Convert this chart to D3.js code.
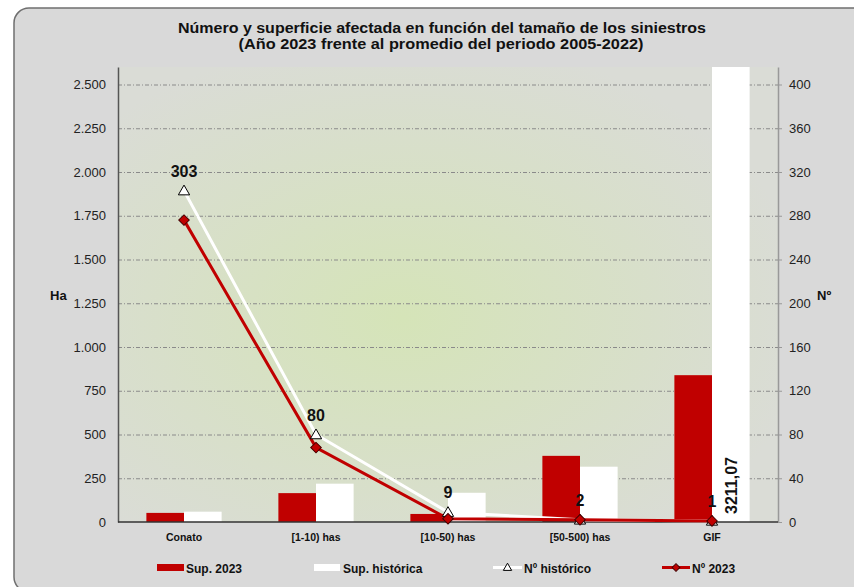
<!DOCTYPE html>
<meta charset="utf-8">
<style>
body { margin: 0; background: #fff; }
text { font-family: 'Liberation Sans', Arial, sans-serif; fill: #111; }
.tick-label { font-size: 13px; fill: #222; }
.cat-label { font-size: 10.5px; font-weight: bold; }
.legend text { font-size: 12px; font-weight: bold; }
.data-label { font-size: 16px; font-weight: bold; }
.title { font-size: 14.5px; font-weight: bold; }
</style>
<div class="chart"></div>
<script src="https://d3js.org/d3.v7.min.js"></script>
<script>
// data
var categories = ["Conato", "[1-10) has", "[10-50) has", "[50-500) has", "GIF"];
var sup2023 = [52, 165, 46, 378, 839];
var supHistorica = [59, 219, 167, 316, 3211.07];
var numHistorico = [303, 80, 9, 2, 1];
var num2023 = [276, 68, 3, 2, 1];
var haTicks = [0, 250, 500, 750, 1000, 1250, 1500, 1750, 2000, 2250, 2500];
var numTicks = [0, 40, 80, 120, 160, 200, 240, 280, 320, 360, 400];

var W = 854, H = 587;
var plot = { left: 118, right: 778, top: 67, bottom: 522 };
var red = "#c00000";

var es = d3.formatLocale({ decimal: ",", thousands: ".", grouping: [3], currency: ["", "€"] });
var fmtHa = es.format(",.0f");
var fmtLabel = es.format(".2f");

var svg = d3.select(".chart").append("svg")
    .attr("width", W)
    .attr("height", H);

var defs = svg.append("defs");
var grad = defs.append("radialGradient")
    .attr("id", "plotbg")
    .attr("cx", "43%").attr("cy", "55%").attr("r", "62%");
grad.append("stop").attr("offset", "0%").attr("stop-color", "#d5e4b8");
grad.append("stop").attr("offset", "100%").attr("stop-color", "#dadcd6");

// outer frame (runs off the right and bottom edges)
svg.append("rect")
    .attr("x", 14).attr("y", 8)
    .attr("width", 880).attr("height", 584)
    .attr("rx", 15)
    .style("fill", "#d9d9d9")
    .style("stroke", "#6f6f6f")
    .style("stroke-width", 1.5);

svg.append("rect")
    .attr("x", plot.left).attr("y", plot.top)
    .attr("width", plot.right - plot.left)
    .attr("height", plot.bottom - plot.top)
    .style("fill", "url(#plotbg)");

// title
svg.append("text")
    .attr("class", "title")
    .attr("x", 442).attr("y", 33)
    .attr("text-anchor", "middle")
    .attr("textLength", 528).attr("lengthAdjust", "spacingAndGlyphs")
    .text("Número y superficie afectada en función del tamaño de los siniestros");
svg.append("text")
    .attr("class", "title")
    .attr("x", 441).attr("y", 49)
    .attr("text-anchor", "middle")
    .attr("textLength", 405).attr("lengthAdjust", "spacingAndGlyphs")
    .text("(Año 2023 frente al promedio del periodo 2005-2022)");

var x0 = d3.scaleBand()
    .domain(categories)
    .range([plot.left, plot.right])
    .paddingInner(0.43)
    .paddingOuter(0.215);
var x1 = d3.scaleBand()
    .domain(["2023", "hist"])
    .range([0, x0.bandwidth()]);
var yHa = d3.scaleLinear().domain([0, 2600]).range([plot.bottom, plot.top]).clamp(true);
var yNum = d3.scaleLinear().domain([0, 416]).range([plot.bottom, plot.top]);
function cx(c) { return x0(c) + x0.bandwidth() / 2; }

// gridlines
svg.append("g").selectAll("line")
    .data(haTicks.slice(1))
    .enter().append("line")
    .attr("x1", plot.left).attr("x2", plot.right)
    .attr("y1", function (d) { return yHa(d) + 0.5; })
    .attr("y2", function (d) { return yHa(d) + 0.5; })
    .style("stroke", "#8a8a8a")
    .style("stroke-width", 1)
    .style("stroke-dasharray", "4,2,1,2");

// left axis
var leftAxis = svg.append("g")
    .attr("transform", "translate(" + plot.left + ",0)")
    .call(d3.axisLeft(yHa).tickValues(haTicks).tickFormat(fmtHa).tickSize(0).tickPadding(12));
leftAxis.select(".domain").style("stroke", "#555").style("stroke-width", 1.5);
leftAxis.selectAll("text").attr("class", "tick-label").attr("font-family", null).attr("font-size", null);

// right axis
var rightAxis = svg.append("g")
    .attr("transform", "translate(" + plot.right + ",0)")
    .call(d3.axisRight(yNum).tickValues(numTicks).tickSize(4).tickSizeOuter(0).tickPadding(7));
rightAxis.select(".domain").style("stroke", "#999").style("stroke-width", 1.5);
rightAxis.selectAll(".tick line").style("stroke", "#999");
rightAxis.selectAll("text").attr("class", "tick-label").attr("font-family", null).attr("font-size", null);

// axis titles
svg.append("text").attr("x", 50).attr("y", 300)
    .style("font-size", "13px").style("font-weight", "bold").text("Ha");
svg.append("text").attr("x", 817).attr("y", 300)
    .style("font-size", "13px").style("font-weight", "bold").text("Nº");

// bars
var groups = svg.append("g").selectAll("g")
    .data(categories)
    .enter().append("g")
    .attr("transform", function (d) { return "translate(" + x0(d) + ",0)"; });

groups.append("rect")
    .attr("x", x1("2023"))
    .attr("width", x1.bandwidth())
    .attr("y", function (d, i) { return yHa(sup2023[i]); })
    .attr("height", function (d, i) { return plot.bottom - yHa(sup2023[i]); })
    .style("fill", red);

groups.append("rect")
    .attr("x", x1("hist"))
    .attr("width", x1.bandwidth())
    .attr("y", function (d, i) { return yHa(supHistorica[i]); })
    .attr("height", function (d, i) { return plot.bottom - yHa(supHistorica[i]); })
    .style("fill", "#fff");

// baseline
svg.append("line")
    .attr("x1", plot.left).attr("x2", plot.right)
    .attr("y1", plot.bottom).attr("y2", plot.bottom)
    .style("stroke", "#333").style("stroke-width", 1.5);

// label on the clipped GIF historic bar
var gi = categories.length - 1;
svg.append("text")
    .attr("class", "data-label")
    .attr("transform", "translate(" + (x0(categories[gi]) + x1("hist") + x1.bandwidth() / 2 + 6) + "," + (plot.bottom - 8) + ") rotate(-90)")
    .text(fmtLabel(supHistorica[gi]));

// lines
var lineNum = d3.line()
    .x(function (d, i) { return cx(categories[i]); })
    .y(function (d) { return yNum(d); });

svg.append("path")
    .datum(numHistorico)
    .attr("d", lineNum)
    .style("fill", "none").style("stroke", "#fff").style("stroke-width", 3);

svg.append("path")
    .datum(num2023)
    .attr("d", lineNum)
    .style("fill", "none").style("stroke", red).style("stroke-width", 3);

var tri = d3.symbol().type(d3.symbolTriangle).size(55);
var dia = d3.symbol().type(d3.symbolSquare).size(56);

svg.append("g").selectAll("path")
    .data(numHistorico)
    .enter().append("path")
    .attr("d", tri)
    .attr("transform", function (d, i) { return "translate(" + cx(categories[i]) + "," + (yNum(d) + 1) + ")"; })
    .style("fill", "#fff").style("stroke", "#000").style("stroke-width", 1);

svg.append("g").selectAll("path")
    .data(num2023)
    .enter().append("path")
    .attr("d", dia)
    .attr("transform", function (d, i) { return "translate(" + cx(categories[i]) + "," + yNum(d) + ") rotate(45)"; })
    .style("fill", red).style("stroke", "#400").style("stroke-width", 1);

svg.append("g").selectAll("text")
    .data(numHistorico)
    .enter().append("text")
    .attr("class", "data-label")
    .attr("text-anchor", "middle")
    .attr("x", function (d, i) { return cx(categories[i]); })
    .attr("y", function (d) { return yNum(d) - 14; })
    .text(function (d) { return d; });

// category labels
svg.append("g").selectAll("text")
    .data(categories)
    .enter().append("text")
    .attr("class", "cat-label")
    .attr("text-anchor", "middle")
    .attr("x", function (d) { return cx(d); })
    .attr("y", 541)
    .text(function (d) { return d; });

// legend
var legend = svg.append("g").attr("class", "legend");
legend.append("rect").attr("x", 157).attr("y", 564).attr("width", 27).attr("height", 7).style("fill", red);
legend.append("text").attr("x", 186).attr("y", 573).text("Sup. 2023");
legend.append("rect").attr("x", 314).attr("y", 564).attr("width", 26).attr("height", 7).style("fill", "#fff");
legend.append("text").attr("x", 343).attr("y", 573).text("Sup. histórica");
legend.append("line").attr("x1", 493).attr("x2", 522).attr("y1", 567.5).attr("y2", 567.5)
    .style("stroke", "#fff").style("stroke-width", 3);
legend.append("path").attr("d", d3.symbol().type(d3.symbolTriangle).size(30))
    .attr("transform", "translate(507.5,568)")
    .style("fill", "#fff").style("stroke", "#000").style("stroke-width", 1);
legend.append("text").attr("x", 524).attr("y", 573).text("Nº histórico");
legend.append("line").attr("x1", 662).attr("x2", 690).attr("y1", 567.5).attr("y2", 567.5)
    .style("stroke", red).style("stroke-width", 3);
legend.append("path").attr("d", d3.symbol().type(d3.symbolSquare).size(30))
    .attr("transform", "translate(676,567.5) rotate(45)")
    .style("fill", red).style("stroke", "#400").style("stroke-width", 1);
legend.append("text").attr("x", 692).attr("y", 573).text("Nº 2023");
</script>
